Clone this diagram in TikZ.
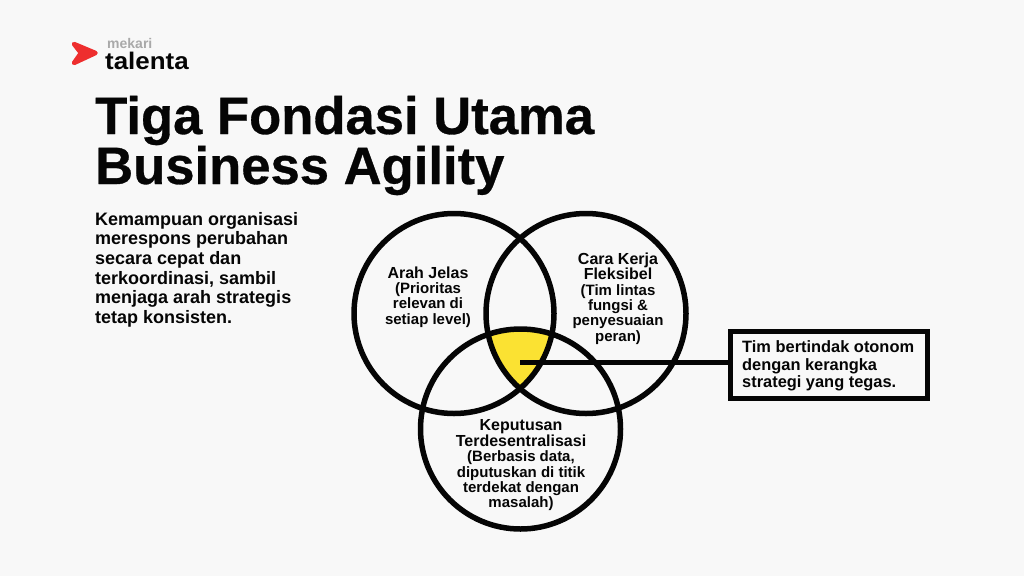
\documentclass[tikz,border=0pt]{standalone}
\usepackage{fontspec}
\setmainfont{Liberation Sans}
\definecolor{bgc}{HTML}{F8F8F8}
\definecolor{ink}{HTML}{050505}
\definecolor{yel}{HTML}{FBE232}
\definecolor{logored}{HTML}{EE2E2E}
\definecolor{logogray}{HTML}{A9A9A9}
\newcommand{\hd}[1]{{\fontsize{16}{15.4}\selectfont #1}}
\tikzset{
  ring/.style={circle,draw=ink,line width=5.5pt,minimum size=200pt,inner sep=0pt},
  lbl/.style={align=center,text=ink,font=\fontsize{15}{15.4}\selectfont\bfseries,inner sep=0pt},
  callout/.style={draw=ink,line width=5pt,fill=bgc,minimum width=197pt,minimum height=67pt,inner sep=0pt},
  leader/.style={draw=ink,line width=5pt},
}
\begin{document}
\begin{tikzpicture}[x=1pt,y=-1pt]
\useasboundingbox (0,0) rectangle (1024,576);
\fill[bgc] (0,0) rectangle (1024,576);
% logo
\fill[logored,draw=logored,line width=4.5pt,line join=round] (74,44) -- (95.5,53) -- (74,63) -- (81,53) -- cycle;
\node[anchor=base west,text=logogray,font=\fontsize{14}{14}\selectfont\bfseries,inner sep=0pt] (mek) at (107,48) {mekari};
\node[anchor=base west,text=ink,font=\fontsize{24}{24}\selectfont\bfseries\addfontfeature{FakeStretch=1.08},inner sep=0pt] (tal) at (105,69) {talenta};
% title
\node[anchor=base west,align=left,text=ink,font=\fontsize{52.6}{50}\selectfont\bfseries\addfontfeature{FakeBold=0.6},inner sep=0pt] (title) at (95,184) {Tiga Fondasi Utama\\Business Agility};
% body
\node[anchor=north west,align=left,text=ink,font=\fontsize{18}{19.6}\selectfont\bfseries,inner sep=0pt] (body) at (95,212) {Kemampuan organisasi\\merespons perubahan\\secara cepat dan\\terkoordinasi, sambil\\menjaga arah strategis\\tetap konsisten.};
% yellow
\begin{scope}
\clip (454,313.5) circle (100);
\clip (586,313.5) circle (100);
\fill[yel] (520.5,429) circle (100);
\end{scope}
\node[ring] (left) at (454,313.5) {};
\node[ring] (right) at (586,313.5) {};
\node[ring] (bottom) at (520.5,429) {};
\node[lbl] (tleft) at (428,297) {\hd{Arah Jelas}\\(Prioritas\\relevan di\\setiap level)};
\node[lbl] (tright) at (618,298.5) {\hd{Cara Kerja}\\\hd{Fleksibel}\\(Tim lintas\\fungsi \&\\penyesuaian\\peran)};
\node[lbl] (tbottom) at (521,465.5) {\hd{Keputusan}\\\hd{Terdesentralisasi}\\(Berbasis data,\\diputuskan di titik\\terdekat dengan\\masalah)};
\node[callout] (box) at (828.5,364.5) {};
\node[anchor=west,align=left,text=ink,font=\fontsize{16.4}{17.5}\selectfont\bfseries,inner sep=0pt] (tbox) at (742,366) {Tim bertindak otonom\\dengan kerangka\\strategi yang tegas.};
\coordinate (start) at (520,362);
\draw[leader] (start) -- (start -| box.west);
\end{tikzpicture}
\end{document}
